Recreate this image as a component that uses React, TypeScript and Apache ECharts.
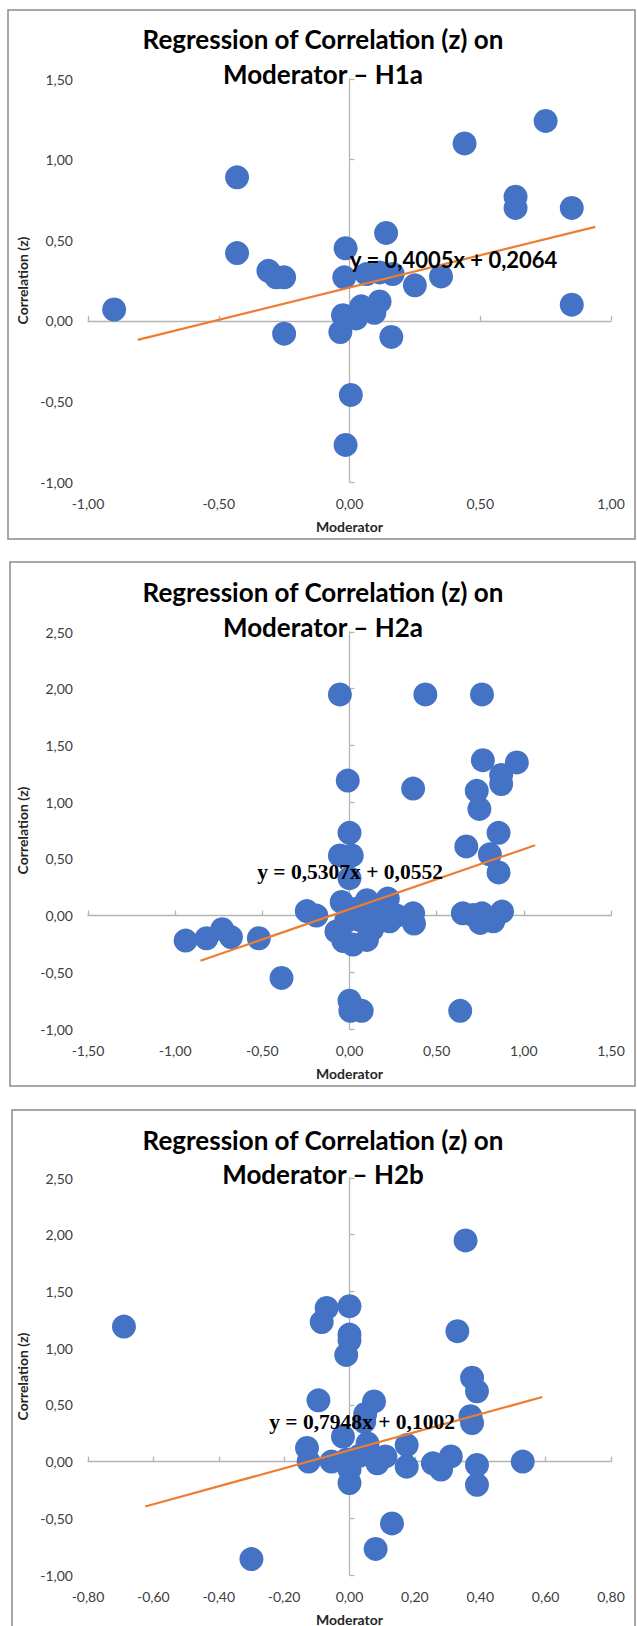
import React, { useEffect, useRef } from "react";
import * as echarts from "echarts";

// ---------- data ----------
const titleLine1 = "Regression of Correlation (z) on";
const titleLine2 = ["Moderator – H1a", "Moderator – H2a", "Moderator – H2b"];
const xAxisTitle = "Moderator";
const yAxisTitle = "Correlation (z)";

const h1aPoints: [number, number][] = [
  [-0.9, 0.07], [-0.43, 0.89], [-0.43, 0.42], [-0.31, 0.31], [-0.28, 0.27],
  [-0.25, 0.27], [-0.25, -0.08], [-0.015, 0.45], [-0.02, 0.27], [0.065, 0.29],
  [0.115, 0.3], [0.165, 0.29], [0.14, 0.545], [0.25, 0.22], [0.35, 0.275],
  [0.115, 0.12], [0.095, 0.05], [0.045, 0.09], [0.025, 0.015], [-0.025, 0.035],
  [-0.035, -0.07], [0.16, -0.1], [0.005, -0.46], [-0.015, -0.77], [0.44, 1.1],
  [0.75, 1.24], [0.635, 0.77], [0.635, 0.7], [0.85, 0.7], [0.85, 0.1],
];

const h2aPoints: [number, number][] = [
  [-0.94, -0.22], [-0.82, -0.2], [-0.73, -0.12], [-0.68, -0.19], [-0.52, -0.2],
  [-0.39, -0.55], [-0.245, 0.04], [-0.19, 0.0],
  [-0.055, 1.95], [0.435, 1.95], [0.76, 1.95], [0.765, 1.37], [0.96, 1.35],
  [0.87, 1.24], [0.87, 1.16], [-0.01, 1.19], [0.365, 1.12], [0.73, 1.1],
  [0.745, 0.94], [0.0, 0.73], [0.855, 0.73], [0.67, 0.61], [-0.055, 0.53],
  [0.013, 0.53], [0.805, 0.54], [0.855, 0.38], [0.0, 0.33],
  [-0.045, 0.12], [0.1, 0.135], [0.22, 0.15], [-0.075, -0.14], [-0.035, -0.225],
  [0.02, -0.255], [0.1, -0.215], [0.06, -0.04], [0.155, -0.01], [0.23, -0.05],
  [0.175, 0.05], [0.365, 0.02], [0.37, -0.07], [0.04, 0.06], [0.13, -0.12],
  [0.27, 0.0], [-0.02, -0.05],
  [0.65, 0.02], [0.71, 0.005], [0.76, 0.02], [0.75, -0.065], [0.825, -0.05], [0.875, 0.035],
  [0.0, -0.75], [0.005, -0.84], [0.07, -0.84], [0.635, -0.84],
];

const h2bPoints: [number, number][] = [
  [-0.69, 1.19], [-0.3, -0.86], [-0.07, 1.355], [-0.085, 1.23], [0.0, 1.37],
  [0.0, 1.12], [0.0, 1.07], [-0.01, 0.94], [0.355, 1.95], [0.33, 1.15],
  [-0.095, 0.54], [0.075, 0.53], [0.048, 0.42], [0.045, 0.35], [0.375, 0.74],
  [0.39, 0.62], [0.37, 0.4], [0.375, 0.34], [-0.02, 0.22], [-0.13, 0.12],
  [-0.125, 0.0], [-0.055, 0.0], [0.0, -0.07], [0.0, -0.19], [-0.01, 0.015],
  [0.03, 0.05], [0.055, 0.16], [0.085, -0.015], [0.11, 0.045], [0.175, 0.145],
  [0.175, -0.045], [0.255, -0.015], [0.28, -0.07], [0.31, 0.045], [0.39, -0.03],
  [0.39, -0.205], [0.53, 0.0], [0.13, -0.545], [0.08, -0.77],
];

const trendSlopes = [0.4005, 0.5307, 0.7948];
const trendIntercepts = [0.2064, 0.0552, 0.1002];
const trendXRanges: [number, number][] = [[-0.81, 0.94], [-0.855, 1.065], [-0.625, 0.59]];
const equationLabels = ["y = 0,4005x + 0,2064", "y = 0,5307x + 0,0552", "y = 0,7948x + 0,1002"];

const xMins = [-1, -1.5, -0.8];
const xMaxs = [1, 1.5, 0.8];
const xSteps = [0.5, 0.5, 0.2];
const yMins = [-1, -1, -1];
const yMaxs = [1.5, 2.5, 2.5];
const ySteps = [0.5, 0.5, 0.5];

// ---------- layout / style ----------
const W = 637;
const H = 1626;
const panelBoxes = [
  { x: 8, y: 10, w: 627, h: 529 },
  { x: 10, y: 562, w: 625, h: 524 },
  { x: 12, y: 1110, w: 623, h: 540 },
];
const gridBoxes = [
  { top: 79, height: 403 },
  { top: 632, height: 397 },
  { top: 1178, height: 397 },
];
const titleYs = [[39, 74], [592, 627], [1140, 1174]];
const eqPos = [
  { x: 350, y: 259, align: "left", font: "Lato", size: 22 },
  { x: 350, y: 872, align: "center", font: "Liberation Serif", size: 21.5 },
  { x: 362, y: 1422, align: "center", font: "Liberation Serif", size: 21.5 },
];
const GRID_LEFT = 88;
const GRID_W = 523;
const BLUE = "#4472C4";
const ORANGE = "#ED7D31";
const AXIS_GREY = "#b4b4b4";

const fmt = (v: number) => (Math.abs(v) < 1e-9 ? 0 : v).toFixed(2).replace(".", ",");

export default function App() {
  const ref = useRef<HTMLDivElement>(null);
  useEffect(() => {
    if (!ref.current) return;
    const chart = echarts.init(ref.current, null, { renderer: "svg" });
    const allPoints = [h1aPoints, h2aPoints, h2bPoints];

    const grid: any[] = [];
    const xAxis: any[] = [];
    const yAxis: any[] = [];
    const series: any[] = [];
    const graphic: any[] = [];

    for (let i = 0; i < 3; i++) {
      grid.push({
        left: GRID_LEFT,
        width: GRID_W,
        top: gridBoxes[i].top,
        height: gridBoxes[i].height,
        containLabel: false,
        outerBoundsMode: "none",
      });
      const lineAxisCommon = {
        gridIndex: i,
        type: "value",
        axisLine: { show: true, onZero: true, lineStyle: { color: AXIS_GREY, width: 1.3 } },
        axisTick: { show: true, inside: true, length: 5, lineStyle: { color: AXIS_GREY, width: 1.3 } },
        axisLabel: { show: false },
        splitLine: { show: false },
      };
      const labelStyle = { fontFamily: "Lato", fontSize: 14, color: "#404040", formatter: fmt };
      const nameStyle = { fontFamily: "Lato", fontSize: 14, fontWeight: "bold", color: "#262626" };
      xAxis.push({ ...lineAxisCommon, position: "bottom", min: xMins[i], max: xMaxs[i], interval: xSteps[i] });
      xAxis.push({
        gridIndex: i, type: "value", position: "bottom",
        min: xMins[i], max: xMaxs[i], interval: xSteps[i],
        axisLine: { show: false, onZero: false }, axisTick: { show: false }, splitLine: { show: false },
        axisLabel: { ...labelStyle, margin: 14 },
        name: xAxisTitle, nameLocation: "middle", nameGap: 37, nameTextStyle: nameStyle,
      });
      yAxis.push({ ...lineAxisCommon, position: "left", min: yMins[i], max: yMaxs[i], interval: ySteps[i] });
      yAxis.push({
        gridIndex: i, type: "value", position: "left",
        min: yMins[i], max: yMaxs[i], interval: ySteps[i],
        axisLine: { show: false, onZero: false }, axisTick: { show: false }, splitLine: { show: false },
        axisLabel: { ...labelStyle, margin: 15 },
        name: yAxisTitle, nameLocation: "middle", nameGap: 49, nameTextStyle: nameStyle,
      });

      series.push({
        type: "scatter",
        xAxisIndex: 2 * i,
        yAxisIndex: 2 * i,
        data: allPoints[i],
        symbolSize: 24,
        itemStyle: { color: BLUE, opacity: 1 },
        z: 2,
      });
      const [x0, x1] = trendXRanges[i];
      series.push({
        type: "line",
        xAxisIndex: 2 * i,
        yAxisIndex: 2 * i,
        data: [
          [x0, trendSlopes[i] * x0 + trendIntercepts[i]],
          [x1, trendSlopes[i] * x1 + trendIntercepts[i]],
        ],
        symbol: "none",
        lineStyle: { color: ORANGE, width: 2.2 },
        z: 3,
      });

      const b = panelBoxes[i];
      graphic.push({
        type: "rect",
        shape: { x: b.x, y: b.y, width: b.w, height: b.h },
        style: { fill: "none", stroke: "#8a8a8a", lineWidth: 1.5 },
        z: 0,
        silent: true,
      });
      graphic.push({
        type: "text",
        x: 323, y: titleYs[i][0], z: 100,
        style: { text: titleLine1, align: "center", verticalAlign: "middle", fontFamily: "Lato", fontWeight: "bold", fontSize: 26, fill: "#000" },
      });
      graphic.push({
        type: "text",
        x: 323, y: titleYs[i][1], z: 100,
        style: { text: titleLine2[i], align: "center", verticalAlign: "middle", fontFamily: "Lato", fontWeight: "bold", fontSize: 26, fill: "#000" },
      });
      graphic.push({
        type: "text",
        x: eqPos[i].x, y: eqPos[i].y, z: 100,
        style: {
          text: equationLabels[i], align: eqPos[i].align, verticalAlign: "middle",
          fontFamily: eqPos[i].font, fontWeight: "bold", fontSize: eqPos[i].size, fill: "#000",
        },
      });
    }

    chart.setOption({
      animation: false,
      backgroundColor: "#fff",
      grid, xAxis, yAxis, series, graphic,
    });
    return () => chart.dispose();
  }, []);

  return (
    <div
      ref={ref}
      style={{ position: "absolute", left: 0, top: 0, width: W, height: H, background: "#fff" }}
    />
  );
}
